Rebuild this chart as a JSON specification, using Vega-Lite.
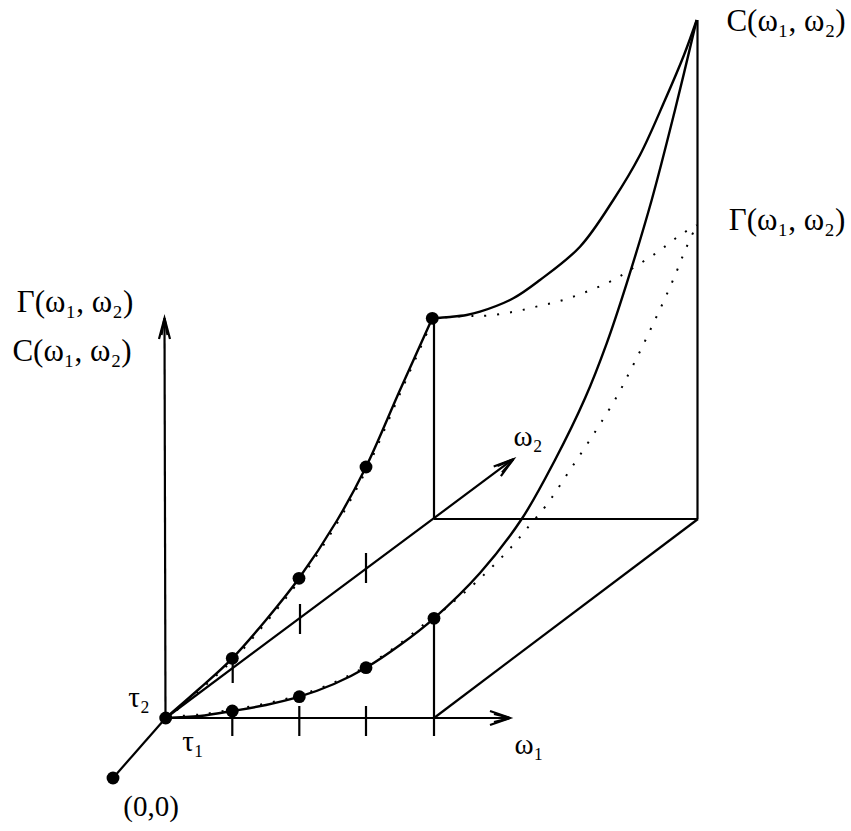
{
  "$schema": "https://vega.github.io/schema/vega-lite/v6.json",
  "width": 851,
  "height": 831,
  "autosize": {"type": "fit", "contains": "padding"},
  "padding": 0,
  "background": "white",
  "config": {"view": {"stroke": null}},
  "datasets": {
    "straight": [
      {"id": "origin", "o": 0, "x": 113, "y": 778}, {"id": "origin", "o": 1, "x": 165.7, "y": 718},
      {"id": "w2axis", "o": 0, "x": 165.7, "y": 718}, {"id": "w2axis", "o": 1, "x": 512, "y": 460},
      {"id": "w1axis", "o": 0, "x": 165.7, "y": 718}, {"id": "w1axis", "o": 1, "x": 509, "y": 718},
      {"id": "vaxis", "o": 0, "x": 165.5, "y": 718}, {"id": "vaxis", "o": 1, "x": 164.5, "y": 320},
      {"id": "t1", "o": 0, "x": 232.3, "y": 706}, {"id": "t1", "o": 1, "x": 232.3, "y": 736},
      {"id": "t2", "o": 0, "x": 299.3, "y": 706}, {"id": "t2", "o": 1, "x": 299.3, "y": 736},
      {"id": "t3", "o": 0, "x": 366, "y": 706}, {"id": "t3", "o": 1, "x": 366, "y": 736},
      {"id": "t4", "o": 0, "x": 434, "y": 618}, {"id": "t4", "o": 1, "x": 434, "y": 736},
      {"id": "s1", "o": 0, "x": 232.7, "y": 653}, {"id": "s1", "o": 1, "x": 232.7, "y": 683},
      {"id": "s2", "o": 0, "x": 300, "y": 604}, {"id": "s2", "o": 1, "x": 300, "y": 634},
      {"id": "s3", "o": 0, "x": 366, "y": 553}, {"id": "s3", "o": 1, "x": 366, "y": 583},
      {"id": "v5", "o": 0, "x": 434, "y": 318.3}, {"id": "v5", "o": 1, "x": 434, "y": 519},
      {"id": "h", "o": 0, "x": 434, "y": 519}, {"id": "h", "o": 1, "x": 698, "y": 519},
      {"id": "v6", "o": 0, "x": 697.5, "y": 20}, {"id": "v6", "o": 1, "x": 697.5, "y": 519},
      {"id": "d", "o": 0, "x": 698, "y": 519}, {"id": "d", "o": 1, "x": 434, "y": 718},
      {"id": "ah1", "o": 0, "x": 490, "y": 711}, {"id": "ah1", "o": 1, "x": 510, "y": 718}, {"id": "ah1", "o": 2, "x": 490, "y": 725},
      {"id": "ah1b", "o": 0, "x": 494, "y": 714}, {"id": "ah1b", "o": 1, "x": 510, "y": 718}, {"id": "ah1b", "o": 2, "x": 494, "y": 722},
      {"id": "ah2", "o": 0, "x": 159, "y": 339}, {"id": "ah2", "o": 1, "x": 164.5, "y": 318.3}, {"id": "ah2", "o": 2, "x": 170, "y": 339},
      {"id": "ah2b", "o": 0, "x": 161.5, "y": 335}, {"id": "ah2b", "o": 1, "x": 164.5, "y": 318.3}, {"id": "ah2b", "o": 2, "x": 167.5, "y": 335},
      {"id": "ah3", "o": 0, "x": 500.9, "y": 476.1}, {"id": "ah3", "o": 1, "x": 513.3, "y": 459.3}, {"id": "ah3", "o": 2, "x": 493.7, "y": 466.5},
      {"id": "ah3b", "o": 0, "x": 502, "y": 472.5}, {"id": "ah3b", "o": 1, "x": 513.3, "y": 459.3}, {"id": "ah3b", "o": 2, "x": 497.5, "y": 466}
    ],
    "curves": [
      {"id": "uc", "o": 0, "x": 165.7, "y": 718}, {"id": "uc", "o": 1, "x": 199, "y": 689},
      {"id": "uc", "o": 2, "x": 232.3, "y": 658.3}, {"id": "uc", "o": 3, "x": 266, "y": 620},
      {"id": "uc", "o": 4, "x": 299, "y": 578.3}, {"id": "uc", "o": 5, "x": 336.7, "y": 521},
      {"id": "uc", "o": 6, "x": 366, "y": 467}, {"id": "uc", "o": 7, "x": 400, "y": 390},
      {"id": "uc", "o": 8, "x": 432.3, "y": 318.3},
      {"id": "lc", "o": 0, "x": 165.7, "y": 718}, {"id": "lc", "o": 1, "x": 200, "y": 716},
      {"id": "lc", "o": 2, "x": 232.3, "y": 711}, {"id": "lc", "o": 3, "x": 266, "y": 705},
      {"id": "lc", "o": 4, "x": 299.3, "y": 696.7}, {"id": "lc", "o": 5, "x": 334, "y": 684},
      {"id": "lc", "o": 6, "x": 366, "y": 667.7}, {"id": "lc", "o": 7, "x": 400, "y": 645},
      {"id": "lc", "o": 8, "x": 434, "y": 618.3}, {"id": "lc", "o": 9, "x": 480, "y": 573},
      {"id": "lc", "o": 10, "x": 521.7, "y": 519}, {"id": "lc", "o": 11, "x": 555, "y": 460},
      {"id": "lc", "o": 12, "x": 585, "y": 398.3}, {"id": "lc", "o": 13, "x": 606.7, "y": 343.3},
      {"id": "lc", "o": 14, "x": 626.7, "y": 283.3}, {"id": "lc", "o": 15, "x": 651.7, "y": 200},
      {"id": "lc", "o": 16, "x": 675, "y": 110}, {"id": "lc", "o": 17, "x": 696.7, "y": 20},
      {"id": "tc", "o": 0, "x": 432.3, "y": 318.3}, {"id": "tc", "o": 1, "x": 450, "y": 317},
      {"id": "tc", "o": 2, "x": 466.7, "y": 315}, {"id": "tc", "o": 3, "x": 480, "y": 311.7},
      {"id": "tc", "o": 4, "x": 513.3, "y": 298.3}, {"id": "tc", "o": 5, "x": 540, "y": 280},
      {"id": "tc", "o": 6, "x": 580, "y": 246.7}, {"id": "tc", "o": 7, "x": 613.3, "y": 200},
      {"id": "tc", "o": 8, "x": 640, "y": 155}, {"id": "tc", "o": 9, "x": 665, "y": 100},
      {"id": "tc", "o": 10, "x": 684, "y": 55}, {"id": "tc", "o": 11, "x": 696.7, "y": 20}
    ],
    "dotted": [
      {"id": "g1", "o": 0, "x": 432.3, "y": 318.3}, {"id": "g1", "o": 1, "x": 466, "y": 316},
      {"id": "g1", "o": 2, "x": 486, "y": 315.7}, {"id": "g1", "o": 3, "x": 512.5, "y": 312},
      {"id": "g1", "o": 4, "x": 537.7, "y": 306.3}, {"id": "g1", "o": 5, "x": 563.3, "y": 300},
      {"id": "g1", "o": 6, "x": 589, "y": 290.7}, {"id": "g1", "o": 7, "x": 613.3, "y": 280},
      {"id": "g1", "o": 8, "x": 635, "y": 266.7}, {"id": "g1", "o": 9, "x": 657.7, "y": 252},
      {"id": "g1", "o": 10, "x": 679.3, "y": 235.7}, {"id": "g1", "o": 11, "x": 696.7, "y": 225},
      {"id": "g2", "o": 0, "x": 434, "y": 618.3}, {"id": "g2", "o": 1, "x": 473, "y": 585},
      {"id": "g2", "o": 2, "x": 493, "y": 566}, {"id": "g2", "o": 3, "x": 511.7, "y": 546.7},
      {"id": "g2", "o": 4, "x": 529, "y": 526}, {"id": "g2", "o": 5, "x": 546, "y": 505.7},
      {"id": "g2", "o": 6, "x": 570, "y": 470}, {"id": "g2", "o": 7, "x": 595, "y": 432},
      {"id": "g2", "o": 8, "x": 617.7, "y": 395}, {"id": "g2", "o": 9, "x": 630, "y": 371.3},
      {"id": "g2", "o": 10, "x": 642.3, "y": 346.7}, {"id": "g2", "o": 11, "x": 654, "y": 322},
      {"id": "g2", "o": 12, "x": 665.3, "y": 297.7}, {"id": "g2", "o": 13, "x": 676, "y": 273},
      {"id": "g2", "o": 14, "x": 685.7, "y": 249}, {"id": "g2", "o": 15, "x": 696.7, "y": 225},
      {"id": "g3", "o": 0, "x": 167, "y": 718.5}, {"id": "g3", "o": 1, "x": 200, "y": 690},
      {"id": "g3", "o": 2, "x": 233.5, "y": 659.3}, {"id": "g3", "o": 3, "x": 267.2, "y": 621},
      {"id": "g3", "o": 4, "x": 300.2, "y": 579.3}, {"id": "g3", "o": 5, "x": 337.9, "y": 522},
      {"id": "g3", "o": 6, "x": 367.2, "y": 468}, {"id": "g3", "o": 7, "x": 401.2, "y": 391},
      {"id": "g3", "o": 8, "x": 432.8, "y": 320},
      {"id": "g4", "o": 0, "x": 170, "y": 716.5}, {"id": "g4", "o": 1, "x": 200, "y": 714.5},
      {"id": "g4", "o": 2, "x": 232.3, "y": 709.5}, {"id": "g4", "o": 3, "x": 266, "y": 703.5},
      {"id": "g4", "o": 4, "x": 299.3, "y": 695.2}, {"id": "g4", "o": 5, "x": 334, "y": 682.5},
      {"id": "g4", "o": 6, "x": 366, "y": 666.2}, {"id": "g4", "o": 7, "x": 400, "y": 643.5},
      {"id": "g4", "o": 8, "x": 432, "y": 617.5}
    ],
    "dots": [
      {"x": 113, "y": 778}, {"x": 165.7, "y": 718},
      {"x": 232.3, "y": 658.3}, {"x": 299, "y": 578.3}, {"x": 366, "y": 467}, {"x": 432.3, "y": 318.3},
      {"x": 232.3, "y": 711}, {"x": 299.3, "y": 696.7}, {"x": 366, "y": 667.7}, {"x": 434, "y": 618.3}
    ],
    "labels": [
      {"t": "Γ(ω₁, ω₂)", "x": 75, "y": 303, "s": "normal", "f": 31},
      {"t": "C(ω₁, ω₂)", "x": 72, "y": 352, "s": "normal", "f": 31},
      {"t": "C(ω₁, ω₂)", "x": 786, "y": 22, "s": "normal", "f": 31},
      {"t": "Γ(ω₁, ω₂)", "x": 787, "y": 221, "s": "normal", "f": 31},
      {"t": "ω₂", "x": 528, "y": 437, "s": "italic", "f": 29},
      {"t": "ω₁", "x": 529, "y": 745, "s": "italic", "f": 29},
      {"t": "τ₂", "x": 139, "y": 698, "s": "italic", "f": 29},
      {"t": "τ₁", "x": 193, "y": 742, "s": "italic", "f": 29},
      {"t": "(0,0)", "x": 151, "y": 807, "s": "normal", "f": 29}
    ]
  },
  "encoding": {
    "x": {"field": "x", "type": "quantitative", "scale": {"domain": [0, 851], "nice": false, "zero": false}, "axis": null},
    "y": {"field": "y", "type": "quantitative", "scale": {"domain": [0, 831], "nice": false, "zero": false, "reverse": true}, "axis": null}
  },
  "layer": [
    {
      "data": {"name": "dotted"},
      "mark": {"type": "line", "interpolate": "catmull-rom", "stroke": "black", "strokeWidth": 2, "strokeDash": [2, 11]},
      "encoding": {"detail": {"field": "id"}, "order": {"field": "o", "type": "quantitative"}}
    },
    {
      "data": {"name": "straight"},
      "mark": {"type": "line", "interpolate": "linear", "stroke": "black", "strokeWidth": 2.2},
      "encoding": {"detail": {"field": "id"}, "order": {"field": "o", "type": "quantitative"}}
    },
    {
      "data": {"name": "curves"},
      "mark": {"type": "line", "interpolate": "catmull-rom", "stroke": "black", "strokeWidth": 2.4},
      "encoding": {"detail": {"field": "id"}, "order": {"field": "o", "type": "quantitative"}}
    },
    {
      "data": {"name": "dots"},
      "mark": {"type": "circle", "color": "black", "opacity": 1, "size": 165}
    },
    {
      "data": {"name": "labels"},
      "mark": {"type": "text", "font": "Liberation Serif", "color": "black", "align": "center", "baseline": "middle"},
      "encoding": {
        "text": {"field": "t"},
        "fontStyle": {"field": "s", "type": "nominal", "scale": null},
        "size": {"field": "f", "type": "quantitative", "scale": null}
      }
    }
  ]
}
